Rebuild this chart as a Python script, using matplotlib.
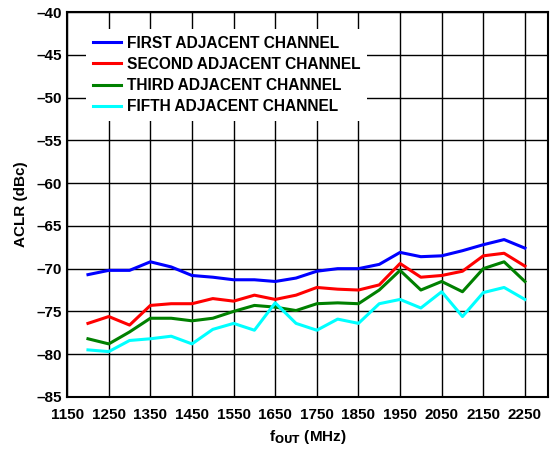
import matplotlib
matplotlib.use("Agg")
import matplotlib.pyplot as plt
import numpy as np

plt.rcParams['font.family'] = ['Liberation Sans', 'DejaVu Sans']
plt.rcParams['font.weight'] = 'bold'

# frequencies (MHz)
freq = [1200, 1250, 1300, 1350, 1400, 1450, 1500, 1550, 1600, 1650, 1700,
        1750, 1800, 1850, 1900, 1950, 2000, 2050, 2100, 2150, 2200, 2250]

first = [-70.7, -70.2, -70.2, -69.2, -69.8, -70.8, -71.0, -71.3, -71.3, -71.5, -71.1,
         -70.3, -70.0, -70.0, -69.5, -68.1, -68.6, -68.5, -67.9, -67.2, -66.6, -67.6]
second = [-76.4, -75.6, -76.6, -74.3, -74.1, -74.1, -73.5, -73.8, -73.1, -73.6, -73.1,
          -72.2, -72.4, -72.5, -71.9, -69.4, -71.0, -70.8, -70.3, -68.5, -68.2, -69.7]
third = [-78.2, -78.8, -77.4, -75.8, -75.8, -76.1, -75.8, -75.0, -74.3, -74.5, -74.9,
         -74.1, -74.0, -74.1, -72.5, -70.2, -72.5, -71.5, -72.7, -70.0, -69.2, -71.5]
fifth = [-79.5, -79.7, -78.4, -78.2, -77.9, -78.8, -77.1, -76.4, -77.2, -74.0, -76.4,
         -77.2, -75.9, -76.4, -74.1, -73.6, -74.6, -72.7, -75.6, -72.8, -72.2, -73.6]

labels = ["FIRST ADJACENT CHANNEL", "SECOND ADJACENT CHANNEL",
          "THIRD ADJACENT CHANNEL", "FIFTH ADJACENT CHANNEL"]
colors = ['#0000ff', '#ff0000', '#008000', '#00ffff']

fig = plt.figure(figsize=(5.55, 4.49), dpi=100)
ax = fig.add_axes([0.121, 0.116, 0.866, 0.857])

for ys, lab, c in zip([first, second, third, fifth], labels, colors):
    ax.plot(freq, ys, color=c, lw=2.2, label=lab)

ax.set_xlim(1150, 2305)
ax.set_ylim(-85, -40)
ax.set_xticks(np.arange(1150, 2251, 100))
ax.set_yticks(np.arange(-85, -39, 5))
ax.set_yticklabels(["\u2013%d" % abs(v) for v in np.arange(-85, -39, 5)])
ax.grid(True, color='black', lw=1.0)
ax.tick_params(axis='x', length=0, labelsize=11, pad=8)
ax.tick_params(axis='y', length=0, labelsize=11, pad=4)
for s in ax.spines.values():
    s.set_linewidth(1.5)

ax.set_ylabel("ACLR (dBc)", fontsize=11, fontweight='bold', labelpad=6)
ax.set_xlabel(r"f$_{\mathbf{OUT}}$ (MHz)", fontsize=11, fontweight='bold', labelpad=4)

leg = ax.legend(loc='upper left', bbox_to_anchor=(0.04, 0.955), frameon=True,
                fancybox=False, edgecolor='none', facecolor='white', framealpha=1,
                fontsize=11.2, handlelength=1.8, handletextpad=0.4,
                labelspacing=0.4, borderaxespad=0)
for t in leg.get_texts():
    t.set_fontweight('bold')

fig.savefig("out.png", dpi=100)
